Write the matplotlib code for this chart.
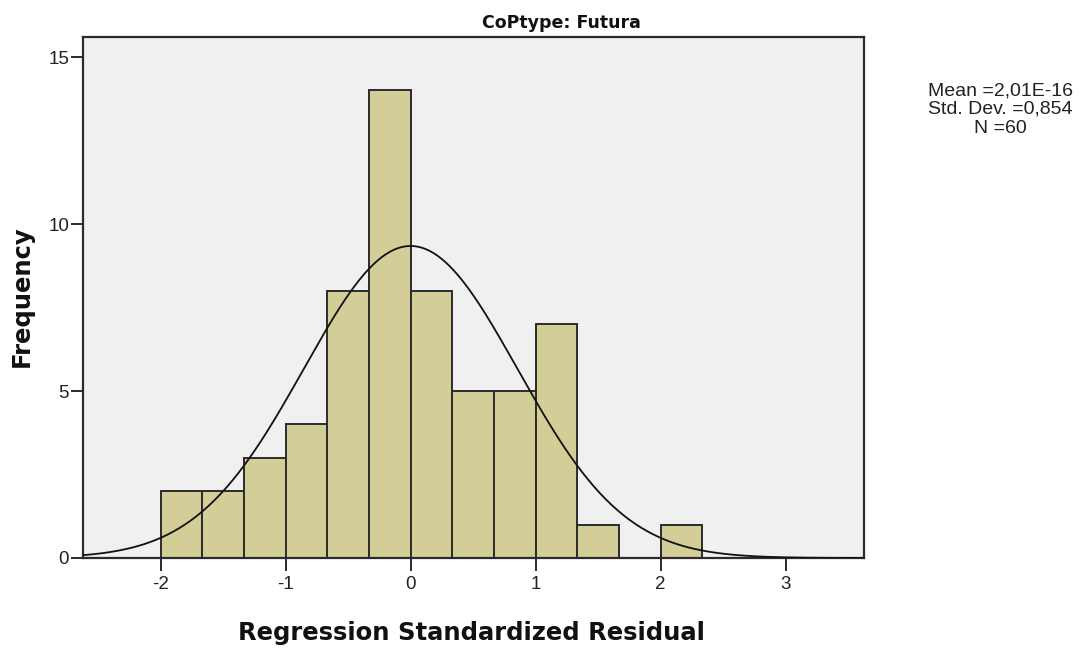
import numpy as np
import matplotlib
matplotlib.use('Agg')
import matplotlib.pyplot as plt

# histogram of standardized residuals, bins of width 1/3 starting at -2
bin_start = -2.0
bin_width = 1.0 / 3.0
counts = [2, 2, 3, 4, 8, 14, 8, 5, 5, 7, 1, 0, 1]

mean = 2.01e-16
std_dev = 0.854
n_obs = 60

x_ticks = [-2, -1, 0, 1, 2, 3]
y_ticks = [0, 5, 10, 15]

W, H = 1088, 651
fig = plt.figure(figsize=(W / 100, H / 100), dpi=100)
fig.patch.set_facecolor('white')

# axes box in pixels: left 83, right 864, top 37, bottom 558
ax = fig.add_axes([83 / W, 1 - 558 / H, (864 - 83) / W, (558 - 37) / H])
ax.set_facecolor('#f0f0f0')

edges = bin_start + bin_width * np.arange(len(counts) + 1)
ax.bar(edges[:-1], counts, width=bin_width, align='edge',
       color='#d3ce98', edgecolor='#2b2b2b', linewidth=1.4, zorder=2)

xlim = (-2.62, 3.626)
xs = np.linspace(xlim[0], xlim[1], 400)
curve = n_obs * bin_width * np.exp(-0.5 * ((xs - mean) / std_dev) ** 2) / (std_dev * np.sqrt(2 * np.pi))
ax.plot(xs, curve, color='#111111', linewidth=1.3, zorder=3)

ax.set_xlim(*xlim)
ax.set_ylim(0, 15.6)
ax.set_xticks(x_ticks)
ax.set_yticks(y_ticks)
ax.set_xticklabels([str(t) for t in x_ticks], fontfamily='Liberation Sans', fontsize=13.5, color='#222222')
ax.set_yticklabels([str(t) for t in y_ticks], fontfamily='Liberation Sans', fontsize=13.5, color='#222222')
ax.tick_params(axis='x', direction='out', length=9, width=1.4, color='#2b2b2b', pad=4)
ax.tick_params(axis='y', direction='out', length=9, width=1.4, color='#2b2b2b', pad=1)
for s in ax.spines.values():
    s.set_color('#2b2b2b')
    s.set_linewidth(1.6)

fig.text(561.5 / W, 1 - 28 / H, 'CoPtype: Futura', ha='center', va='baseline',
         fontfamily='DejaVu Sans', fontweight='bold', fontsize=12.5, color='#111111')
fig.text(471.5 / W, 1 - 640 / H, 'Regression Standardized Residual', ha='center', va='baseline',
         fontfamily='DejaVu Sans', fontweight='bold', fontsize=17.5, color='#111111')
fig.text(22 / W, 1 - 296.5 / H, 'Frequency', ha='center', va='center', rotation=90,
         fontfamily='DejaVu Sans', fontweight='bold', fontsize=17.5, color='#111111')

stats_lines = ['Mean =2,01E-16', 'Std. Dev. =0,854', 'N =60']
for line, base in zip(stats_lines, [95, 114, 133]):
    fig.text(1000.5 / W, 1 - base / H, line, ha='center', va='baseline',
             fontfamily='Liberation Sans', fontsize=14, color='#222222')

plt.savefig('out.png', dpi=100)
plt.close()
